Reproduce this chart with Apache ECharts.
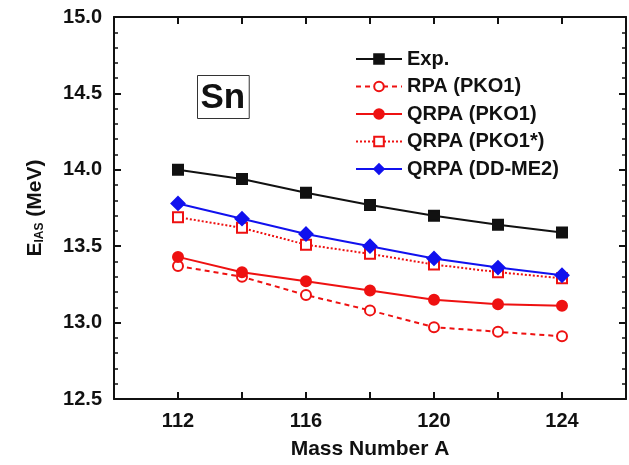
<!DOCTYPE html>
<html><head><meta charset="utf-8">
<script src="https://cdn.jsdelivr.net/npm/echarts@6/dist/echarts.min.js"></script>
<style>html,body{margin:0;background:#fff}#c{width:629px;height:465px}</style>
</head><body><div id="c"></div>
<script>
var massNumbers = [112, 114, 116, 118, 120, 122, 124];
var expVals = [14.00, 13.94, 13.85, 13.77, 13.70, 13.64, 13.59];
var rpaPko1 = [13.37, 13.30, 13.18, 13.08, 12.97, 12.94, 12.91];
var qrpaPko1 = [13.43, 13.33, 13.27, 13.21, 13.15, 13.12, 13.11];
var qrpaPko1s = [13.69, 13.62, 13.51, 13.45, 13.38, 13.33, 13.29];
var qrpaDdme2 = [13.78, 13.68, 13.58, 13.50, 13.42, 13.36, 13.31];

function pairs(v) { return massNumbers.map(function (a, i) { return [a, v[i]]; }); }
var font = 'Liberation Sans';
var ax = { lineStyle: { color: '#111', width: 2 } };
var tk = { inside: true, length: 7, lineStyle: { color: '#111', width: 2 } };
var mtk = { show: true, splitNumber: 5, length: 4, lineStyle: { color: '#111', width: 1.5 } };

function mk(name, data, color, symbol, filled, lineType) {
    return {
        name: name, type: 'line', data: pairs(data), symbol: symbol,
        symbolSize: symbol === 'diamond' ? 13 : 10,
        lineStyle: { color: color, width: 2, type: lineType },
        itemStyle: { color: filled ? color : '#fff', borderColor: color, borderWidth: 2 },
        emphasis: { disabled: true }
    };
}

var chart = echarts.init(document.getElementById('c'));
chart.setOption({
    animation: false,
    grid: { left: 114, right: 3, top: 17, bottom: 46 },
    legend: {
        orient: 'vertical', left: 350, top: 44, itemWidth: 46, itemHeight: 12, itemGap: 7.5,
        textStyle: { fontFamily: font, fontWeight: 'bold', fontSize: 20, color: '#111' },
        data: ['Exp.', 'RPA (PKO1)', 'QRPA (PKO1)', 'QRPA (PKO1*)', 'QRPA (DD-ME2)']
    },
    graphic: [{
        type: 'text', left: 197, top: 75,
        style: { text: 'Sn', fontFamily: font, fontWeight: 'bold', fontSize: 35, fill: '#111',
            padding: [5, 4, 3, 3], borderColor: '#333', borderWidth: 1 }
    }],
    xAxis: [{
        type: 'value', min: 110, max: 126, interval: 2,
        name: 'Mass Number A', nameLocation: 'middle', nameGap: 40,
        nameTextStyle: { fontFamily: font, fontWeight: 'bold', fontSize: 21, color: '#111' },
        axisLine: ax, axisTick: tk, splitLine: { show: false },
        axisLabel: { fontFamily: font, fontWeight: 'bold', fontSize: 20, color: '#111', margin: 12,
            formatter: function (v) { return (v >= 112 && v <= 124 && (v - 112) % 4 === 0) ? v : ''; } }
    }, {
        type: 'value', min: 110, max: 126, interval: 2, position: 'top',
        axisLine: ax, axisTick: tk, axisLabel: { show: false }, splitLine: { show: false }
    }],
    yAxis: [{
        type: 'value', min: 12.5, max: 15.0, interval: 0.5,
        name: '{b|E}{s|IAS}{b| (MeV)}', nameLocation: 'middle', nameGap: 68,
        nameTextStyle: { rich: {
            b: { fontFamily: font, fontWeight: 'bold', fontSize: 21, color: '#111' },
            s: { fontFamily: font, fontWeight: 'bold', fontSize: 12, color: '#111', verticalAlign: 'bottom', padding: [10, 0, 0, 0] }
        } },
        axisLine: ax, axisTick: tk, minorTick: mtk, splitLine: { show: false },
        axisLabel: { fontFamily: font, fontWeight: 'bold', fontSize: 20, color: '#111', margin: 12,
            formatter: function (v) { return v.toFixed(1); } }
    }, {
        type: 'value', min: 12.5, max: 15.0, interval: 0.5, position: 'right',
        axisLine: ax, axisTick: tk, minorTick: mtk, axisLabel: { show: false }, splitLine: { show: false }
    }],
    series: [
        mk('Exp.', expVals, '#111', 'rect', true, 'solid'),
        mk('RPA (PKO1)', rpaPko1, '#ee1111', 'circle', false, [5, 4]),
        mk('QRPA (PKO1)', qrpaPko1, '#ee1111', 'circle', true, 'solid'),
        mk('QRPA (PKO1*)', qrpaPko1s, '#ee1111', 'rect', false, [2, 2]),
        mk('QRPA (DD-ME2)', qrpaDdme2, '#1111ee', 'diamond', true, 'solid')
    ]
});
</script></body></html>
